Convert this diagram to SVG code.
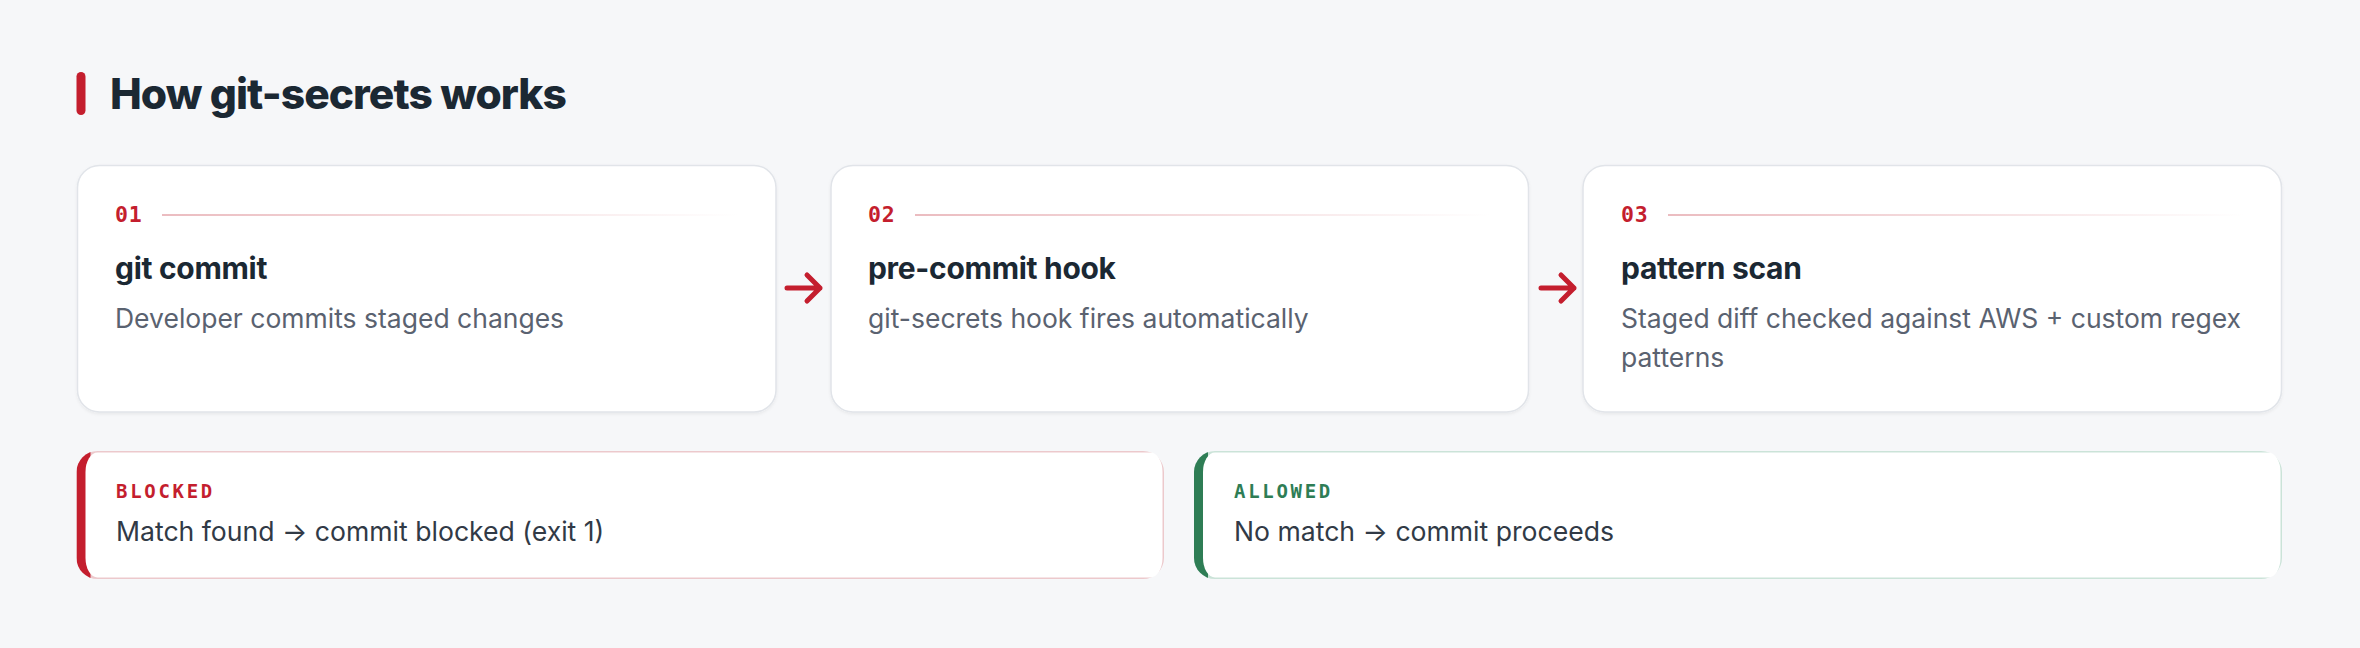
<svg xmlns="http://www.w3.org/2000/svg" width="2360" height="648" viewBox="0 0 2360 648">
<style>
.title{font-family:Inter,"Liberation Sans",sans-serif;font-weight:800;font-size:42.5px;fill:#1b2833;letter-spacing:-0.95px}
.card{fill:#ffffff;stroke:#e1e4e9;stroke-width:1.5}
.num{font-family:"DejaVu Sans Mono","Liberation Mono",monospace;font-weight:700;font-size:21.5px;fill:#c41e2e;letter-spacing:0.8px}
.head{font-family:Inter,"Liberation Sans",sans-serif;font-weight:700;font-size:30px;fill:#1b2833;letter-spacing:-0.3px}
.desc{font-family:Inter,"Liberation Sans",sans-serif;font-weight:400;font-size:26.5px;fill:#5a6270}
.rule{fill:url(#fade)}
.arrow{fill:none;stroke:#c41e2e;stroke-width:5;stroke-linecap:round;stroke-linejoin:round}
.lbl{font-family:"DejaVu Sans Mono","Liberation Mono",monospace;font-weight:700;font-size:19px;letter-spacing:2.7px}
.out{font-family:Inter,"Liberation Sans",sans-serif;font-weight:400;font-size:26.6px;fill:#313a46}
</style>
<defs>
<linearGradient id="fade" x1="0" y1="0" x2="1" y2="0">
<stop offset="0" stop-color="#ebbcc0"/>
<stop offset="1" stop-color="#ebbcc0" stop-opacity="0"/>
</linearGradient>
<filter id="sh" x="-5%" y="-5%" width="110%" height="115%">
<feDropShadow dx="0" dy="1.5" stdDeviation="1.5" flood-color="#1b2833" flood-opacity="0.06"/>
</filter>
<clipPath id="cb"><rect x="76.5" y="451" width="1087.5" height="128" rx="21" ry="21"/></clipPath>
<clipPath id="ca"><rect x="1194" y="451" width="1088" height="128" rx="21" ry="21"/></clipPath>
</defs>
<rect width="2360" height="648" fill="#f6f7f9"/>
<g id="title">
<rect x="76.5" y="72" width="9" height="43" rx="4.5" fill="#c41e2e"/>
<text class="title" x="110" y="109">How git-secrets works</text>
</g>
<g id="step1">
<rect class="card" filter="url(#sh)" x="77.5" y="165.5" width="698.5" height="246.5" rx="22"/>
<text class="num" x="115" y="222">01</text>
<rect class="rule" x="162" y="214" width="576" height="2"/>
<text class="head" x="115" y="279">git commit</text>
<text class="desc" x="115" y="328">Developer commits staged changes</text>
</g>
<g id="step2">
<rect class="card" filter="url(#sh)" x="831" y="165.5" width="697.5" height="246.5" rx="22"/>
<text class="num" x="868" y="222">02</text>
<rect class="rule" x="915" y="214" width="575" height="2"/>
<text class="head" x="868" y="279">pre-commit hook</text>
<text class="desc" x="868" y="328">git-secrets hook fires automatically</text>
</g>
<g id="step3">
<rect class="card" filter="url(#sh)" x="1583" y="165.5" width="698.5" height="246.5" rx="22"/>
<text class="num" x="1621" y="222">03</text>
<rect class="rule" x="1668" y="214" width="576" height="2"/>
<text class="head" x="1621" y="279">pattern scan</text>
<text class="desc" x="1621" y="328">Staged diff checked against AWS + custom regex</text>
<text class="desc" x="1621" y="367">patterns</text>
</g>
<g id="connectors">
<path class="arrow" d="M787 288H820M807 275L820 288L807 301"/>
<path class="arrow" d="M1541 288H1574M1561 275L1574 288L1561 301"/>
</g>
<g id="blocked">
<g clip-path="url(#cb)">
<rect x="76.5" y="451" width="1087.5" height="128" fill="#ecc9cc"/>
<rect x="76.5" y="451" width="14" height="128" fill="#c41e2e"/>
</g>
<rect x="85.5" y="452.5" width="1077" height="125" rx="12" ry="19.5" fill="#ffffff"/>
<text class="lbl" x="116" y="498" fill="#c41e2e">BLOCKED</text>
<text class="out" x="116" y="541">Match found → commit blocked (exit 1)</text>
</g>
<g id="allowed">
<g clip-path="url(#ca)">
<rect x="1194" y="451" width="1088" height="128" fill="#cbe3d8"/>
<rect x="1194" y="451" width="14" height="128" fill="#2e7d55"/>
</g>
<rect x="1203" y="452.5" width="1077.5" height="125" rx="12" ry="19.5" fill="#ffffff"/>
<text class="lbl" x="1234" y="498" fill="#2e7d55">ALLOWED</text>
<text class="out" x="1234" y="541">No match → commit proceeds</text>
</g>
</svg>
